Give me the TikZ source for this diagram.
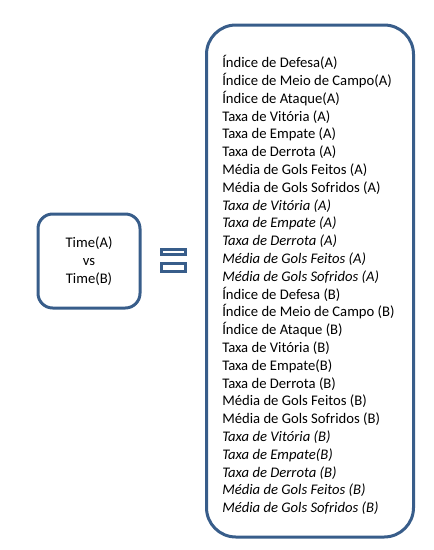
\documentclass[tikz,border=0pt]{standalone}
\usepackage{fontspec}
\setmainfont{Carlito}
\definecolor{moldura}{HTML}{385D8A}

\begin{document}
\begin{tikzpicture}[
  x = 0.75pt, y = -0.75pt,
  caixa/.style = {draw = moldura, line width = 2.25pt, rounded corners = 11pt,
                  inner sep = 0pt, align = center},
  lista/.style = {caixa, rounded corners = 22pt,
                  minimum width = 155.25pt, minimum height = 384pt},
  igual/.style = {draw = moldura, line width = 2.25pt},
  every node/.style = {font = \fontsize{11}{13.35}\selectfont},
  ]
  \useasboundingbox (0,0) rectangle (434,550);
  \node[caixa, minimum width = 76.5pt, minimum height = 70.5pt] (times) at (89,261)
    {Time(A)\\ vs\\ Time(B)};
  % sinal de igual
  \draw[igual] (161.5,249.2) rectangle (185.8,254.2);
  \draw[igual] (161.5,263.8) rectangle (185.8,271.2);
  \node[lista] (atributos) at (310,281) {};
  \node[anchor = west, align = left, inner sep = 0pt] (textos) at (222,285)
    {Índice de Defesa(A)\\
     Índice de Meio de Campo(A)\\
     Índice de Ataque(A)\\
     Taxa de Vitória (A)\\
     Taxa de Empate (A)\\
     Taxa de Derrota (A)\\
     Média de Gols Feitos (A)\\
     Média de Gols Sofridos (A)\\
     \textit{Taxa de Vitória (A)}\\
     \textit{Taxa de Empate (A)}\\
     \textit{Taxa de Derrota (A)}\\
     \textit{Média de Gols Feitos (A)}\\
     \textit{Média de Gols Sofridos (A)}\\
     Índice de Defesa (B)\\
     Índice de Meio de Campo (B)\\
     Índice de Ataque (B)\\
     Taxa de Vitória (B)\\
     Taxa de Empate(B)\\
     Taxa de Derrota (B)\\
     Média de Gols Feitos (B)\\
     Média de Gols Sofridos (B)\\
     \textit{Taxa de Vitória (B)}\\
     \textit{Taxa de Empate(B)}\\
     \textit{Taxa de Derrota (B)}\\
     \textit{Média de Gols Feitos (B)}\\
     \textit{Média de Gols Sofridos (B)}};
\end{tikzpicture}
\end{document}
